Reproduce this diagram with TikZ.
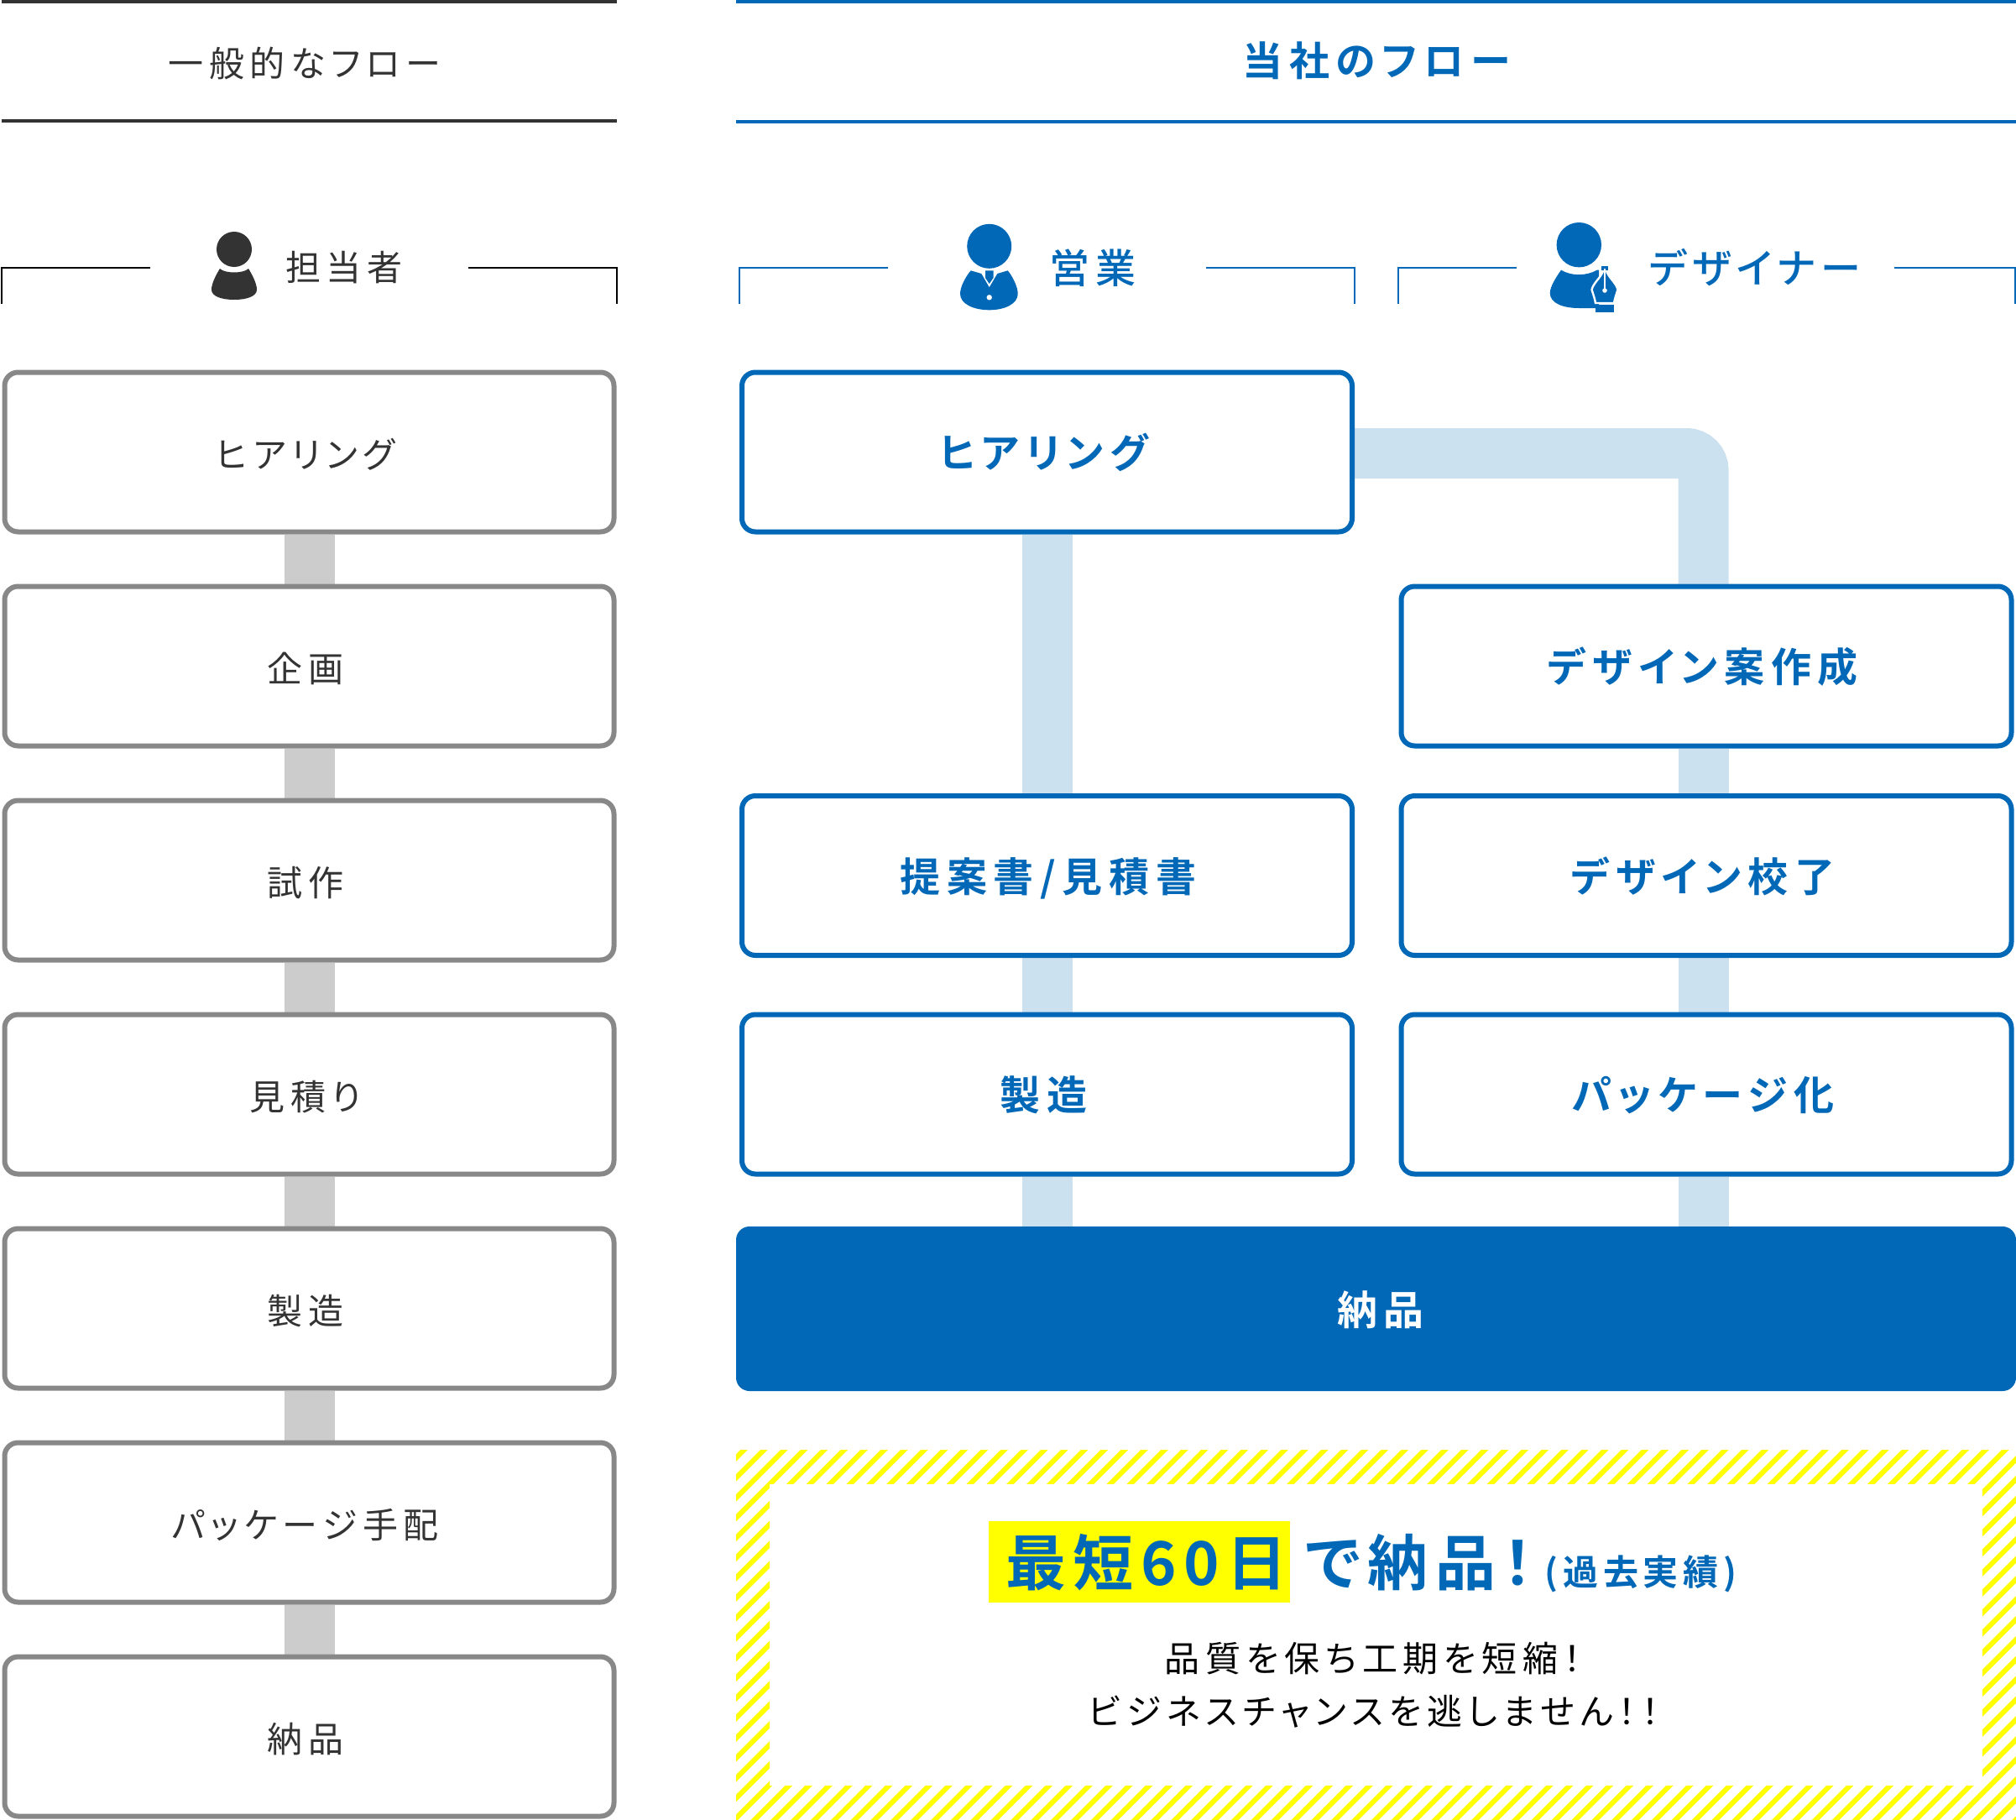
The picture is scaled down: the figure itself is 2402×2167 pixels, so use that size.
\documentclass[tikz,border=0pt]{standalone}
\usepackage{fontspec}
\newfontfamily\jp[RawFeature=+palt,LetterSpace=16]{Noto Sans CJK JP}
\newfontfamily\jpm[RawFeature=+palt,LetterSpace=14]{Noto Sans CJK JP Medium}
\newfontfamily\jpb[RawFeature=+palt,LetterSpace=16]{Noto Sans CJK JP Bold}
\newfontfamily\jpbs[RawFeature=+palt,LetterSpace=14]{Noto Sans CJK JP Bold}
\newfontfamily\jpbig[RawFeature=+palt,LetterSpace=12]{Noto Sans CJK JP Bold}
\usetikzlibrary{backgrounds}
\definecolor{brand}{HTML}{0068B7}
\definecolor{lightbrand}{HTML}{CCE1F0}
\definecolor{ink}{HTML}{333333}
\definecolor{rim}{HTML}{888888}
\definecolor{linkgray}{HTML}{CCCCCC}
\definecolor{hatch}{HTML}{FFFF00}
\tikzset{
  base/.style={rounded corners=8pt,line width=3pt,fill=white,minimum height=95pt,text depth=0pt,inner sep=0pt},
  grayflow/.style={base,draw=rim,text=ink,text height=18.5pt,minimum width=363pt,font=\jp\fontsize{21pt}{24pt}\selectfont,execute at end node={\hspace{4.5pt}}},
  blueflow/.style={base,draw=brand,text=brand,text height=19pt,minimum width=363.5pt,font=\jpb\fontsize{24pt}{28pt}\selectfont,execute at end node={\hspace{4pt}}},
  graylink/.style={draw=linkgray,line width=30pt},
  bluelink/.style={draw=lightbrand,line width=30pt},
  rule/.style={line width=2pt},
  bracket/.style={line width=.8pt},
  grayhead/.style={text=ink,inner sep=0pt,font=\jp\fontsize{21pt}{24pt}\selectfont},
  bluehead/.style={text=brand,inner sep=0pt,font=\jpb\fontsize{24pt}{28pt}\selectfont},
  bluerole/.style={text=brand,inner sep=0pt,font=\jpm\fontsize{24pt}{28pt}\selectfont},
  bodytext/.style={text=black,inner sep=0pt,font=\jp\fontsize{21pt}{24pt}\selectfont},
}
\begin{document}
\begin{tikzpicture}[x=0.5pt,y=-0.5pt]
\useasboundingbox (0,0) rectangle (2402,2167);
% hatch
\begin{scope}
\clip (877,1727.5) rectangle (2402,2167);
\foreach \k in {-3,...,86}{
  \draw[hatch,line width=3pt] ({2637.4+23.855*\k-1707.5},1707.5) -- ++(-480,480);
}
\end{scope}
\fill[white] (917,1768) rectangle (2362,2126.5);
\node[fill=hatch,minimum width=179.5pt,minimum height=48.5pt,inner sep=0pt] (hl) at (1357.5,1860.5) {};
\node[anchor=base,inner sep=0pt,text=brand,font=\jpbig\fontsize{36pt}{40pt}\selectfont] (fast) at (1366,1888) {最短60日};
\node[anchor=base west,inner sep=0pt,text=brand,font=\jpbig\fontsize{36pt}{40pt}\selectfont] (deliv) at (1555,1888) {で納品！};
\node[anchor=base west,inner sep=0pt,text=brand,font=\jpbs\fontsize{21pt}{24pt}\selectfont] (past) at (1840,1888) {(過去実績)};
\node[bodytext] (b1) at (1636,1976) {品質を保ち工期を短縮！};
\node[bodytext] (b2) at (1637,2039) {ビジネスチャンスを逃しません！！};
% headers
\draw[rule,draw=ink] (2,2) -- (735,2);
\draw[rule,draw=ink] (2,144) -- (735,144);
\draw[rule,draw=brand] (877,2) -- (2402,2);
\draw[rule,draw=brand] (877,145) -- (2402,145);
\node[grayhead] (t1) at (363,75) {一般的なフロー};
\node[bluehead] (t2) at (1640,72) {当社のフロー};
% brackets
\draw[bracket,draw=black] (2,362) -- (2,319) -- (179,319);
\draw[bracket,draw=black] (558,319) -- (735,319) -- (735,362);
\draw[bracket,draw=brand] (881,362) -- (881,319) -- (1058,319);
\draw[bracket,draw=brand] (1437,319) -- (1614,319) -- (1614,362);
\draw[bracket,draw=brand] (1666,362) -- (1666,319) -- (1807,319);
\draw[bracket,draw=brand] (2257,319) -- (2401,319) -- (2401,362);
\node[grayhead] (r1) at (410,319) {担当者};
\node[bluerole] (r2) at (1302,319) {営業};
\node[bluerole] (r3) at (2091,319) {デザイナー};
% gray icon
\fill[ink] (279,297) circle[radius=10.5pt];
\fill[ink] (262,320) .. controls (257,328) and (252,338) .. (252,345) .. controls (252,353) and (264,357) .. (279,357) .. controls (294,357) and (306,353) .. (306,345) .. controls (306,338) and (301,328) .. (296,320) .. controls (290,326) and (268,326) .. (262,320) -- cycle;
% sales icon
\fill[brand] (1178.7,293.3) circle[radius=13.25pt];
\fill[brand] (1156.7,322.3) .. controls (1150,330) and (1144,342) .. (1144,350) .. controls (1144,362) and (1160,369.3) .. (1178.7,369.3) .. controls (1197,369.3) and (1212.7,362) .. (1212.7,350) .. controls (1212.7,342) and (1207,330) .. (1200.7,322.3) -- (1188.3,326) -- (1178.7,342.3) -- (1169.3,326) -- cycle;
\fill[brand] (1174,322.3) -- (1183.5,322.3) -- (1183.5,331) -- (1178.7,338) -- (1174,331) -- cycle;
\fill[white] (1178.7,354.3) circle[radius=1.6pt];
% designer icon
\fill[brand] (1881.3,291.7) circle[radius=13.35pt];
\fill[brand] (1860,321.7) .. controls (1854,330) and (1846.7,342) .. (1846.7,349) .. controls (1846.7,361) and (1862,367) .. (1881,367) -- (1905,367) -- (1905,321.7) -- (1902.7,321.7) .. controls (1890,329) and (1872,329) .. (1860,321.7) -- cycle;
\filldraw[fill=brand,draw=white,line width=1.2pt] (1912,316) .. controls (1914,330) and (1925,335) .. (1927.5,345) .. controls (1926,350) and (1924,355) .. (1923,361) -- (1901,361) .. controls (1900,355) and (1898,350) .. (1896.5,345) .. controls (1899,335) and (1910,330) .. (1912,316) -- cycle;
\fill[brand] (1908,317) rectangle (1916,322);
\draw[white,line width=.7pt] (1912,320) -- (1912,346);
\fill[white] (1912,346) circle[radius=1.4pt];
\fill[brand] (1901,362.5) rectangle (1923,372);
% left flow
\foreach \n/\y/\t in {g1/538.5/ヒアリング,g2/793.5/企画,g3/1048.5/試作,g4/1303.5/見積り,g5/1558.5/製造,g6/1813.5/パッケージ手配,g7/2068.5/納品}{
  \node[grayflow] (\n) at (368.5,\y) {\t};
}
% right flow
\node[blueflow] (h) at (1247.5,538.5) {ヒアリング};
\node[blueflow] (d1) at (2033,793.5) {デザイン案作成};
\node[blueflow,execute at begin node={\hspace{5.4pt}}] (p) at (1247.5,1043) {提案書/見積書};
\node[blueflow] (d2) at (2033,1043) {デザイン校了};
\node[blueflow] (m) at (1247.5,1303.5) {製造};
\node[blueflow] (d3) at (2033,1303.5) {パッケージ化};
\node[fill=brand,text=white,rounded corners=8pt,minimum width=762.5pt,minimum height=98pt,inner sep=0pt,text height=19pt,text depth=0pt,font=\jpb\fontsize{24pt}{28pt}\selectfont,execute at begin node={\hspace{5.4pt}}] (n) at (1639.5,1559) {納品};
\coordinate (bend) at (2029.5,540);
\begin{scope}[on background layer]
\foreach \a/\b in {g1/g2,g2/g3,g3/g4,g4/g5,g5/g6,g6/g7}{
  \draw[graylink] (\a) -- (\b);
}
\draw[bluelink] (h) -- (p);
\draw[bluelink] (p) -- (m);
\draw[bluelink] (m.south) -- (m.south |- n.north);
\draw[bluelink,rounded corners=10pt] (h.east |- bend) -- (bend) -- (bend |- d1.north);
\draw[bluelink] (bend |- d1.south) -- (bend |- d2.north);
\draw[bluelink] (bend |- d2.south) -- (bend |- d3.north);
\draw[bluelink] (bend |- d3.south) -- (bend |- n.north);
\end{scope}
\end{tikzpicture}
\end{document}
